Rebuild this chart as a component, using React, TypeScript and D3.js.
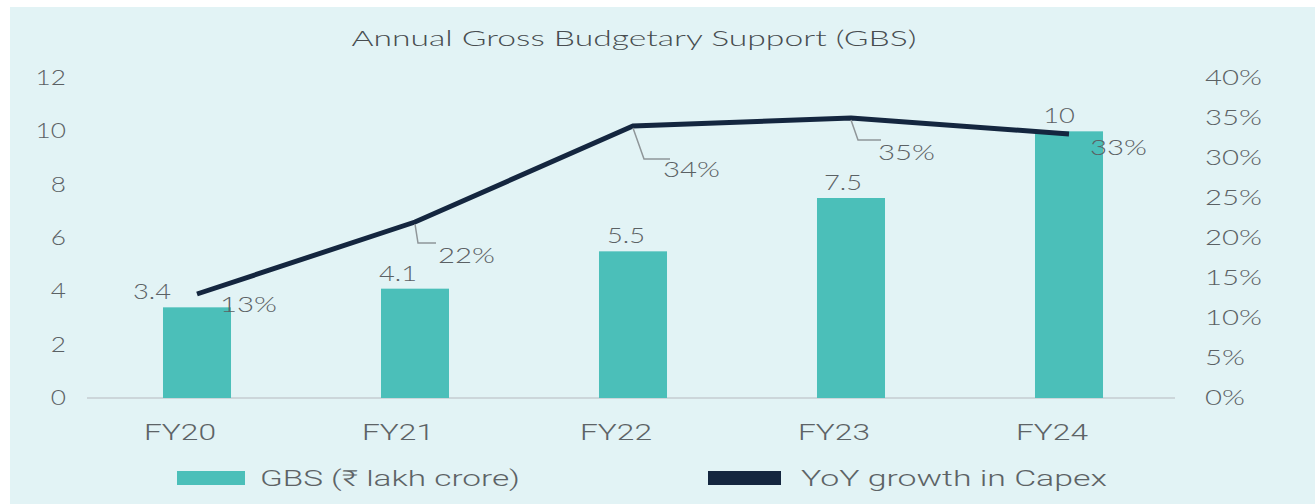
import React from "react";
import * as d3 from "d3";

const categories = ["FY20", "FY21", "FY22", "FY23", "FY24"];
const gbsValues = [3.4, 4.1, 5.5, 7.5, 10];
const gbsLabels = ["3.4", "4.1", "5.5", "7.5", "10"];
const growthValues = [13, 22, 34, 35, 33];
const growthLabels = ["13%", "22%", "34%", "35%", "33%"];
const leftTicks = [0, 2, 4, 6, 8, 10, 12];
const rightTicks = [0, 5, 10, 15, 20, 25, 30, 35, 40];
const title = "Annual Gross Budgetary Support (GBS)";
const legendBar = "GBS (₹ lakh crore)";
const legendLine = "YoY growth in Capex";

// label layout (styling only)
const valueDx = [-45, -17, -7, -8, -10];
const growthLayout = [
  { dx: 23, dy: 18, leader: null as null | number[] },
  { dx: 23, dy: 41, leader: [3, 21, 18] },
  { dx: 30, dy: 51, leader: [11, 33, 26] },
  { dx: 27, dy: 42, leader: [7, 22, 23] },
  { dx: 21, dy: 21, leader: null },
];

const W = 1315;
const H = 504;
const BG = "#e2f3f5";
const TEAL = "#4bbfb9";
const NAVY = "#14263f";
const TXT = "#5b6164";
const NUMFONT = "Lato, 'DejaVu Sans', sans-serif";
const SANS = "Roboto, 'Noto Sans', sans-serif";

function Num(props: { x: number; y: number; anchor?: string; size?: number; sx?: number; children: any; fill?: string }) {
  const { x, y, anchor = "middle", size = 21, sx = 1.3, children, fill = TXT } = props;
  return (
    <g transform={`translate(${x},${y}) scale(${sx},1)`}>
      <text x={0} y={0} textAnchor={anchor as any} fontFamily={NUMFONT} fontWeight={300} fontSize={size} fill={fill}>
        {children}
      </text>
    </g>
  );
}

export default function App() {
  const x = d3.scaleBand<string>().domain(categories).range([88, 1178]).paddingInner(0.688).paddingOuter(0.344);
  const yL = d3.scaleLinear().domain([0, 12]).range([398, 78]);
  const yR = d3.scaleLinear().domain([0, 40]).range([398, 78]);
  const cx = (c: string) => (x(c) as number) + x.bandwidth() / 2;

  const line = d3
    .line<number>()
    .x((_, i) => cx(categories[i]))
    .y((d) => yR(d));

  return (
    <svg width={W} height={H} style={{ position: "absolute", left: 0, top: 0, background: "#ffffff" }}>
      <rect x={10} y={7} width={W - 10} height={H - 7} fill={BG} />
      <text
        x={634}
        y={46}
        textAnchor="middle"
        fontFamily={NUMFONT}
        fontWeight={300}
        fontSize={22}
        fill="#484d50"
        textLength={565}
        lengthAdjust="spacingAndGlyphs"
      >
        {title}
      </text>

      {/* left axis */}
      {leftTicks.map((t) => (
        <Num key={"l" + t} x={66} y={yL(t) + 7} anchor="end" sx={1.25}>
          {String(t)}
        </Num>
      ))}
      {/* right axis */}
      {rightTicks.map((t) => (
        <Num key={"r" + t} x={1205} y={yR(t) + 7} anchor="start" sx={1.4}>
          {t + "%"}
        </Num>
      ))}

      {/* baseline */}
      <line x1={87} x2={1175} y1={yL(0)} y2={yL(0)} stroke="#c4cdd0" strokeWidth={1.5} />

      {/* bars */}
      {categories.map((c, i) => (
        <rect
          key={"b" + c}
          x={x(c)}
          y={yL(gbsValues[i])}
          width={x.bandwidth()}
          height={yL(0) - yL(gbsValues[i])}
          fill={TEAL}
        />
      ))}

      {/* x labels */}
      {categories.map((c) => (
        <text
          key={"x" + c}
          x={cx(c) - 17}
          y={440}
          textAnchor="middle"
          fontFamily={SANS}
          fontWeight={300}
          fontSize={22}
          fill="#5d6366"
          textLength={72}
          lengthAdjust="spacingAndGlyphs"
        >
          {c}
        </text>
      ))}

      {/* bar value labels */}
      {categories.map((c, i) => (
        <Num key={"v" + c} x={cx(c) + valueDx[i]} y={yL(gbsValues[i]) - 8} anchor="middle" sx={1.3}>
          {gbsLabels[i]}
        </Num>
      ))}

      {/* line */}
      <path d={line(growthValues) || ""} fill="none" stroke={NAVY} strokeWidth={5} strokeLinejoin="miter" />

      {/* leader lines and growth labels */}
      {categories.map((c, i) => {
        const px = cx(c);
        const py = yR(growthValues[i]);
        const L = growthLayout[i];
        return (
          <g key={"g" + c}>
            {L.leader && (
              <polyline
                points={`${px},${py + 2} ${px + L.leader[0]},${py + L.leader[1]} ${px + L.leader[0] + L.leader[2]},${py + L.leader[1]}`}
                fill="none"
                stroke="#8f9699"
                strokeWidth={1.5}
              />
            )}
            <Num x={px + L.dx} y={py + L.dy} anchor="start" sx={1.4}>
              {growthLabels[i]}
            </Num>
          </g>
        );
      })}

      {/* legend */}
      <rect x={177} y={471} width={68} height={14} fill={TEAL} />
      <text
        x={260}
        y={486}
        fontFamily={SANS}
        fontWeight={300}
        fontSize={22}
        fill="#5d6366"
        textLength={260}
        lengthAdjust="spacingAndGlyphs"
      >
        {legendBar}
      </text>
      <rect x={708} y={471} width={73} height={14} fill={NAVY} />
      <text
        x={801}
        y={486}
        fontFamily={SANS}
        fontWeight={300}
        fontSize={22}
        fill="#5d6366"
        textLength={306}
        lengthAdjust="spacingAndGlyphs"
      >
        {legendLine}
      </text>
    </svg>
  );
}
